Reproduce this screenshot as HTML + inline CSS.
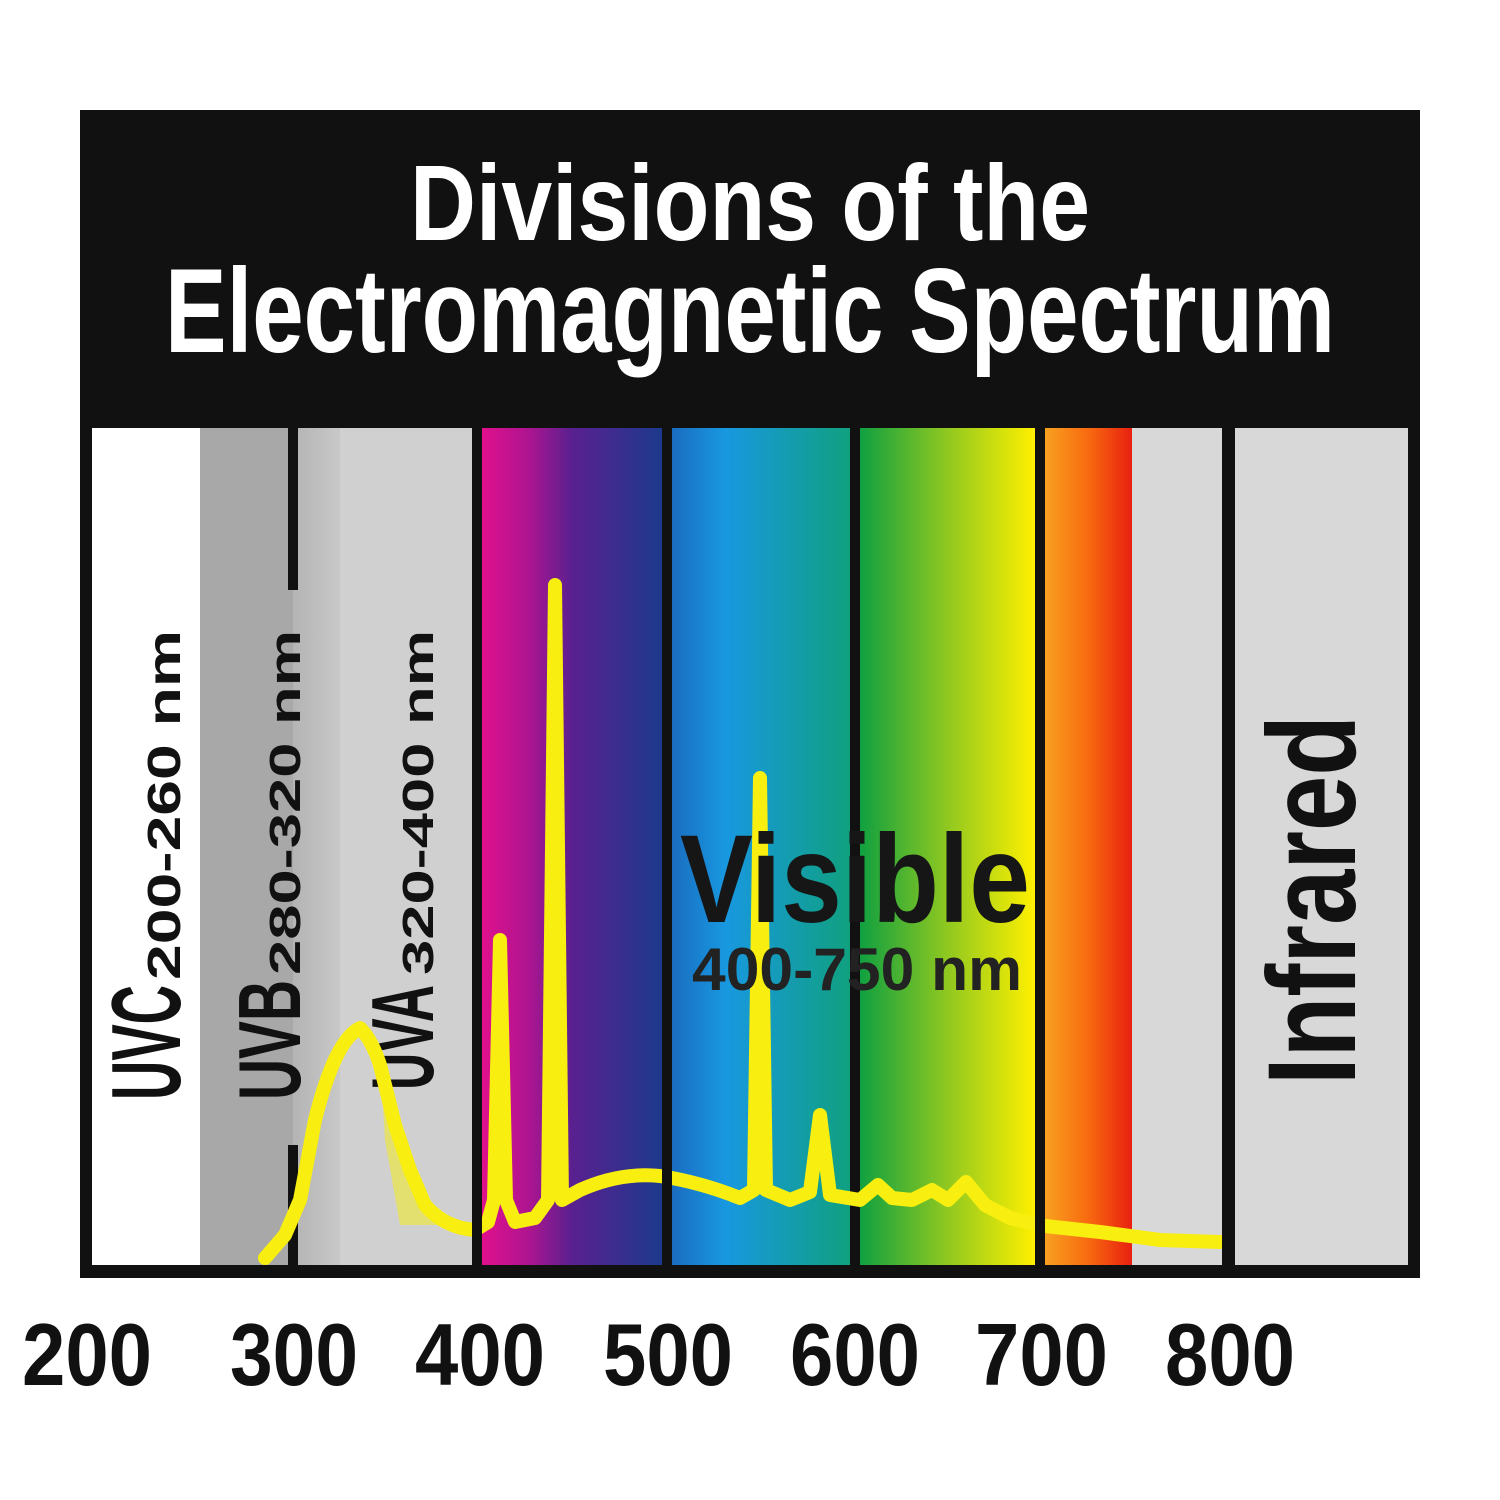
<!DOCTYPE html>
<html><head><meta charset="utf-8"><style>html,body{margin:0;padding:0;background:#fff}svg{display:block}</style></head>
<body>
<svg width="1500" height="1500" viewBox="0 0 1500 1500" xmlns="http://www.w3.org/2000/svg" font-family="Liberation Sans, sans-serif" font-weight="bold">
<defs>
<linearGradient id="g1" x1="0" x2="1"><stop offset="0" stop-color="#e0108c"/><stop offset="0.25" stop-color="#b01490"/><stop offset="0.5" stop-color="#5a2090"/><stop offset="1" stop-color="#1c3a8c"/></linearGradient>
<linearGradient id="g2" x1="0" x2="1"><stop offset="0" stop-color="#1a6cc0"/><stop offset="0.3" stop-color="#1898e0"/><stop offset="1" stop-color="#10a080"/></linearGradient>
<linearGradient id="g3" x1="0" x2="1"><stop offset="0" stop-color="#10a040"/><stop offset="0.5" stop-color="#90c820"/><stop offset="1" stop-color="#fff000"/></linearGradient>
<linearGradient id="g4" x1="0" x2="1"><stop offset="0" stop-color="#f8a020"/><stop offset="0.5" stop-color="#f86a10"/><stop offset="1" stop-color="#e82010"/></linearGradient>
<linearGradient id="g5" x1="0" x2="1"><stop offset="0" stop-color="#b4b4b4"/><stop offset="1" stop-color="#c8c8c8"/></linearGradient>
</defs>
<rect x="80" y="110" width="1340" height="1168" fill="#111"/>
<rect x="92" y="428" width="108" height="837" fill="#fff"/>
<rect x="200" y="428" width="93" height="837" fill="#a8a8a8"/>
<rect x="293" y="428" width="47" height="837" fill="url(#g5)"/>
<rect x="340" y="428" width="132" height="837" fill="#d0d0d0"/>
<rect x="482" y="428" width="180" height="837" fill="url(#g1)"/>
<rect x="672" y="428" width="178" height="837" fill="url(#g2)"/>
<rect x="860" y="428" width="175" height="837" fill="url(#g3)"/>
<rect x="1045" y="428" width="87" height="837" fill="url(#g4)"/>
<rect x="1132" y="428" width="90" height="837" fill="#d8d8d8"/>
<rect x="1235" y="428" width="173" height="837" fill="#d8d8d8"/>
<rect x="288" y="428" width="10" height="162" fill="#111"/>
<rect x="288" y="1145" width="10" height="120" fill="#111"/>
<rect x="850" y="428" width="10" height="390" fill="#111"/>
<rect x="850" y="990" width="10" height="275" fill="#111"/>
<text x="750" y="240" fill="#fff" font-size="108" text-anchor="middle" textLength="680" lengthAdjust="spacingAndGlyphs">Divisions of the</text>
<text x="750" y="352" fill="#fff" font-size="120" text-anchor="middle" textLength="1170" lengthAdjust="spacingAndGlyphs">Electromagnetic Spectrum</text>
<g transform="translate(180,1100) rotate(-90)"><text x="0" y="0" font-size="98" fill="#111" textLength="115" lengthAdjust="spacingAndGlyphs">UVC</text><text x="120" y="0" font-size="46" fill="#111" textLength="350" lengthAdjust="spacingAndGlyphs">200-260 nm</text></g>
<g transform="translate(300,1100) rotate(-90)"><text x="0" y="0" font-size="88" fill="#111" textLength="120" lengthAdjust="spacingAndGlyphs">UVB</text><text x="125" y="0" font-size="44" fill="#111" textLength="345" lengthAdjust="spacingAndGlyphs">280-320 nm</text></g>
<g transform="translate(433,1090) rotate(-90)"><text x="0" y="0" font-size="88" fill="#111" textLength="105" lengthAdjust="spacingAndGlyphs">UVA</text><text x="115" y="0" font-size="44" fill="#111" textLength="345" lengthAdjust="spacingAndGlyphs">320-400 nm</text></g>
<g transform="translate(1355,1085) rotate(-90)"><text x="0" y="0" font-size="125" fill="#111" textLength="370" lengthAdjust="spacingAndGlyphs">Infrared</text></g>
<path d="M380,1060 L395,1120 L410,1170 L430,1215 L440,1225 L400,1225 L385,1140 Z" fill="#f8ef10" opacity="0.5"/>
<path d="M265,1258 L285,1235 L300,1200 L315,1120 Q335,1040 360,1028 Q372,1040 380,1065 L395,1125 L410,1170 L425,1205 Q445,1228 475,1230 L488,1222 L494,1200 L500,940 L506,1200 L515,1222 L535,1218 L548,1200 L555,585 L562,1200 L580,1190 Q620,1172 660,1176 Q700,1182 740,1198 L754,1190 L760,778 L766,1190 L790,1200 L810,1192 L820,1115 L830,1195 L860,1200 L878,1185 L892,1198 L912,1200 L932,1190 L948,1200 L966,1182 L985,1205 L1010,1218 L1045,1226 L1100,1232 L1160,1240 L1220,1242" fill="none" stroke="#f8ef10" stroke-width="14" stroke-linejoin="round" stroke-linecap="round"/>
<text x="680" y="922" font-size="125" fill="#161616" textLength="350" lengthAdjust="spacingAndGlyphs">Visible</text>
<text x="692" y="990" font-size="60" fill="#222" textLength="330" lengthAdjust="spacingAndGlyphs">400-750 nm</text>
<rect x="472" y="428" width="10" height="837" fill="#111"/>
<rect x="662" y="428" width="10" height="837" fill="#111"/>
<rect x="1035" y="428" width="10" height="837" fill="#111"/>
<rect x="1222" y="428" width="13" height="837" fill="#111"/>
<g font-size="88" fill="#111">
<text x="22" y="1385" textLength="130" lengthAdjust="spacingAndGlyphs">200</text>
<text x="230" y="1385" textLength="128" lengthAdjust="spacingAndGlyphs">300</text>
<text x="415" y="1385" textLength="130" lengthAdjust="spacingAndGlyphs">400</text>
<text x="603" y="1385" textLength="130" lengthAdjust="spacingAndGlyphs">500</text>
<text x="790" y="1385" textLength="130" lengthAdjust="spacingAndGlyphs">600</text>
<text x="975" y="1385" textLength="133" lengthAdjust="spacingAndGlyphs">700</text>
<text x="1165" y="1385" textLength="130" lengthAdjust="spacingAndGlyphs">800</text>
</g>
</svg>
</body></html>
